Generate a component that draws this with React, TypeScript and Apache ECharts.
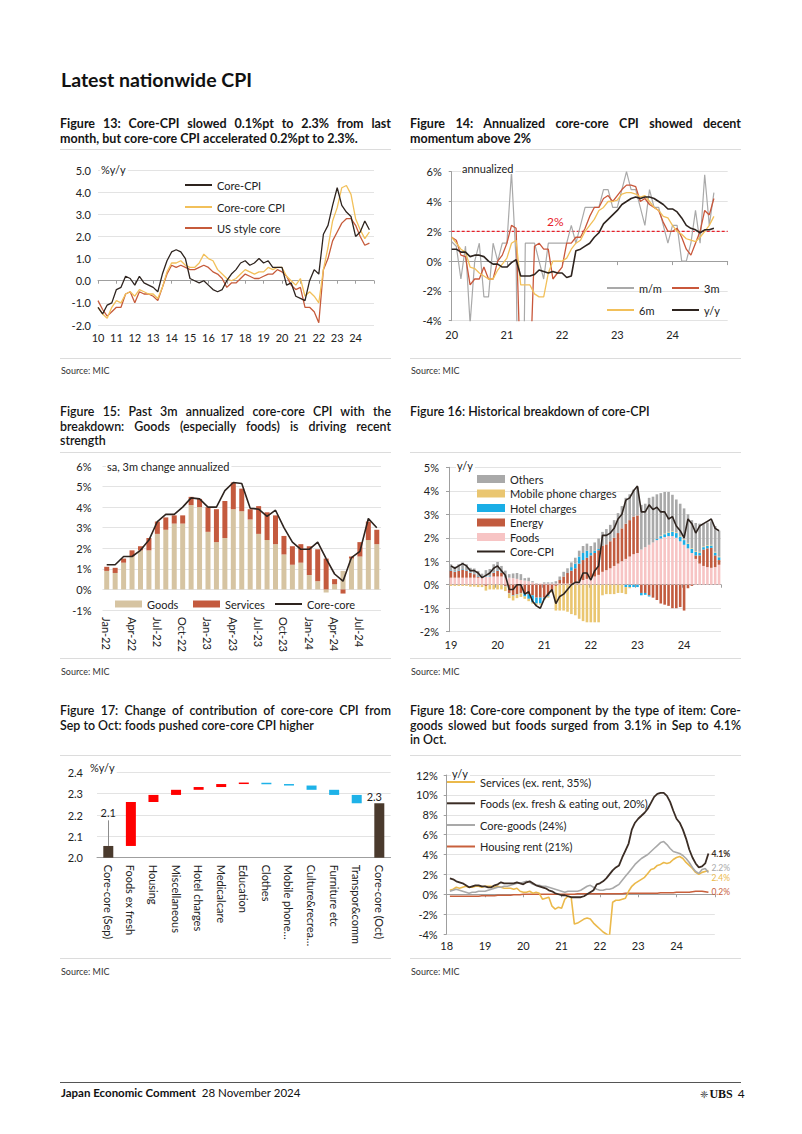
import React, { useEffect, useRef } from "react";
import * as echarts from "echarts";

const FONT = "Lato, 'Open Sans', 'Noto Sans', sans-serif";
const INK = "#222222";
const GRID_C = "#e3e3e3";
const AXIS_C = "#9f9f9f";
const DARK = "#2e241f";

// ---------------- Figure 13 (quarterly readings, 2010Q1 – 2024Q4) ----------------
const f13Start = 2010;
const f13Step = 0.25;
const f13CoreCPI = [
  -1.2, -1.5, -1.1, -1.0, -0.4, -0.3, 0.2, 0.1, -0.2, 0.2, -0.1, -0.2,
  -0.3, -0.5, 0.3, 0.9, 1.3, 1.4, 1.3, 1.0, 0.1, 0.0, -0.1, 0.0,
  -0.2, -0.4, -0.5, -0.4, 0.0, 0.3, 0.5, 0.8, 0.9, 0.7, 0.8, 1.0,
  0.8, 0.9, 0.6, 0.6, 0.6, -0.2, -0.1, -0.7, -0.8, -0.9, 0.0, 0.5,
  0.3, 2.1, 2.5, 3.4, 4.2, 3.4, 3.1, 2.9, 2.0, 2.2, 2.7, 2.3,
];
const f13CoreCore = [
  -1.2, -1.5, -1.7, -1.2, -0.9, -1.0, -0.6, -0.5, -0.7, -0.4, -0.5, -0.6,
  -0.6, -0.8, -0.3, 0.4, 0.8, 0.8, 0.9, 0.7, 0.6, 0.6, 0.8, 1.2,
  1.0, 0.9, 0.5, 0.3, 0.1, 0.0, 0.1, 0.3, 0.5, 0.4, 0.3, 0.4,
  0.4, 0.6, 0.5, 0.6, 0.6, 0.2, 0.0, -0.2, 0.1, -0.7, -0.5, -0.7,
  -1.0, 0.5, 1.5, 2.7, 3.3, 4.2, 4.3, 3.9, 2.8, 2.3, 1.9, 2.2,
];
const f13USCore = [
  -0.9, -1.3, -1.6, -1.4, -1.2, -1.2, -0.6, -0.5, -1.0, -0.5, -0.6, -0.6,
  -0.7, -0.9, -0.3, 0.3, 0.7, 0.6, 0.7, 0.6, 0.5, 0.5, 0.6, 0.7,
  0.6, 0.4, 0.3, 0.1, -0.3, -0.1, -0.1, 0.1, 0.3, 0.2, 0.1, 0.1,
  0.2, 0.3, 0.3, 0.5, 0.4, 0.2, -0.2, -0.4, -0.3, -1.2, -1.2, -1.4,
  -1.9, 0.5, 1.0, 1.8, 2.2, 2.6, 2.8, 2.8, 2.5, 2.0, 1.6, 1.7,
];

// ---------------- Figure 14 (monthly, Jan-2020 – Oct-2024, annualized %) ----------------
const f14Start = 2020;
const f14End = 2025;
const f14MoM = [
  1.3, 1.0, -1.2, 1.0, -4.2, 0.0, 1.2, -2.4, -2.4, 1.2, 0.0, 1.2,
  1.2, 6.0, 0.0, -25.0, 1.2, 1.2, 1.2, 0.0, -1.2, 1.2, 1.2, 1.2,
  1.2, 1.2, 2.4, 1.2, 2.4, 3.6, 3.6, 3.6, 3.6, 4.8, 4.8, 3.6,
  3.6, 4.8, 6.0, 4.8, 4.8, 3.6, 2.4, 4.8, 3.6, 3.6, 2.4, 1.2,
  2.4, 2.4, 0.0, 0.0, 1.2, 3.4, 1.2, 5.8, 2.4, 4.6,
];
const f14ThreeM = [
  1.6, 1.4, 0.4, 0.3, -1.6, -1.2, -1.2, -0.4, -1.2, -1.2, 0.0, 0.4,
  1.2, 2.4, 2.2, -8.0, -9.0, -8.0, 1.0, 1.2, 0.8, 0.8, -1.2, -0.8,
  -0.4, 1.2, 1.2, 1.6, 1.6, 2.2, 3.0, 3.6, 3.6, 4.2, 4.4, 4.0,
  4.4, 4.8, 5.1, 5.1, 5.0, 4.0, 4.2, 3.8, 3.6, 3.4, 2.6, 2.0,
  2.0, 2.2, 1.6, 0.8, 0.4, 1.2, 2.0, 3.4, 3.1, 4.2,
];
const f14SixM = [
  1.6, 1.2, 0.8, 0.6, -0.4, -0.5, -0.8, -1.0, -1.2, -1.2, -0.6, -0.2,
  0.2, 1.2, 1.4, -1.6, -1.6, -1.6, -2.2, -2.4, -2.4, -0.8, 0.0, 0.0,
  0.0, 0.2, 0.8, 1.2, 1.4, 2.0, 2.4, 2.8, 3.4, 3.6, 4.0, 4.0,
  4.1, 4.5, 4.6, 4.6, 4.5, 4.3, 4.4, 4.0, 3.6, 3.4, 3.0, 2.9,
  2.4, 2.0, 1.8, 1.5, 1.4, 1.3, 1.6, 2.0, 2.4, 3.0,
];
const f14YoY = [
  0.8, 0.8, 0.6, 0.6, 0.3, 0.4, 0.4, 0.3, 0.0, -0.2, -0.2, -0.4,
  -0.4, -0.1, 0.1, -1.0, -1.0, -1.0, -0.9, -0.6, -0.7, -0.8, -0.7, -0.8,
  -0.8, -1.1, -1.0, 0.7, 0.8, 1.0, 1.2, 1.6, 1.9, 2.5, 2.8, 3.1,
  3.4, 3.8, 4.0, 4.2, 4.3, 4.2, 4.3, 4.3, 4.2, 4.0, 3.8, 3.5,
  3.5, 3.3, 2.9, 2.4, 2.2, 2.1, 1.9, 2.1, 2.1, 2.2,
];
const f14Target = 2;

// ---------------- Figure 15 (monthly, Jan-22 – Sep-24) ----------------
const f15Cats = [
  "Jan-22", "Feb-22", "Mar-22", "Apr-22", "May-22", "Jun-22", "Jul-22", "Aug-22", "Sep-22", "Oct-22", "Nov-22", "Dec-22",
  "Jan-23", "Feb-23", "Mar-23", "Apr-23", "May-23", "Jun-23", "Jul-23", "Aug-23", "Sep-23", "Oct-23", "Nov-23", "Dec-23",
  "Jan-24", "Feb-24", "Mar-24", "Apr-24", "May-24", "Jun-24", "Jul-24", "Aug-24", "Sep-24",
];
const f15Goods = [
  0.9, 0.8, 1.3, 1.6, 1.9, 1.9, 2.7, 2.9, 3.2, 3.2, 4.1, 4.0,
  2.8, 2.3, 2.5, 3.9, 3.8, 3.4, 2.7, 2.4, 2.2, 1.7, 1.2, 1.3,
  0.7, 0.4, -0.15, 0.25, 0.9, 1.5, 1.6, 2.4, 2.2,
];
const f15Services = [
  0.2, 0.25, 0.2, 0.3, 0.2, 0.6, 0.6, 0.6, 0.4, 0.4, 0.4, 0.4,
  1.2, 1.6, 1.8, 1.3, 1.1, 0.5, 1.35, 1.35, 1.4, 0.9, 0.9, 0.9,
  1.4, 1.55, 1.5, 0.25, -0.2, 0.1, 0.7, 0.9, 0.7,
];
const f15CoreCore = [
  1.2, 1.2, 1.6, 1.6, 1.9, 2.4, 3.3, 3.65, 3.65, 4.0, 4.45, 4.4,
  4.0, 4.0, 4.8, 5.2, 5.15, 3.95, 3.9, 3.55, 3.85, 3.0, 2.3, 1.95,
  1.95, 2.3, 1.5, 0.75, 0.4, 1.55, 1.85, 3.45, 3.0,
];

// ---------------- Figure 16 (monthly, Jan-2019 – Oct-2024, contribution %pt) ----------------
const f16Start = 2019;
const f16Foods = [
  0.30, 0.30, 0.30, 0.30, 0.30, 0.30, 0.30, 0.30, 0.30, 0.35, 0.35, 0.35,
  0.35, 0.35, 0.30, 0.30, 0.28, 0.25, 0.20, 0.18, 0.15, 0.10, 0.05, 0.05,
  0.05, 0.05, 0.05, 0.05, 0.05, 0.05, 0.05, 0.05, 0.10, 0.15, 0.20, 0.25,
  0.30, 0.35, 0.42, 0.55, 0.62, 0.70, 0.80, 0.90, 1.00, 1.10, 1.20, 1.30,
  1.35, 1.50, 1.60, 1.70, 1.80, 1.90, 1.97, 2.03, 2.07, 2.07, 2.00, 1.85,
  1.70, 1.55, 1.35, 1.10, 0.90, 0.80, 0.75, 0.72, 0.75, 0.85,
];
const f16Energy = [
  0.30, 0.25, 0.30, 0.35, 0.30, 0.20, 0.15, 0.05, 0.00, -0.05, 0.00, 0.15,
  0.25, 0.15, -0.05, -0.35, -0.45, -0.40, -0.35, -0.35, -0.40, -0.45, -0.55, -0.55,
  -0.55, -0.45, -0.25, -0.05, 0.15, 0.30, 0.45, 0.55, 0.60, 0.75, 0.85, 0.90,
  0.95, 1.00, 1.05, 1.10, 1.10, 1.15, 1.20, 1.30, 1.40, 1.50, 1.55, 1.60,
  1.60, -0.35, -0.35, -0.45, -0.55, -0.65, -0.80, -0.85, -0.90, -1.00, -1.00, -0.95,
  -1.10, -0.15, -0.05, 0.15, 0.35, 0.70, 0.80, 0.85, 0.50, 0.20,
];
const f16Hotel = [
  0.02, 0.02, 0.02, 0.02, 0.02, 0.02, 0.02, 0.02, 0.02, 0.02, 0.02, 0.02,
  0.02, 0.00, -0.02, -0.02, -0.02, -0.02, -0.02, -0.15, -0.20, -0.30, -0.25, -0.25,
  -0.05, -0.05, -0.03, 0.00, 0.00, 0.00, 0.00, 0.15, 0.20, 0.30, 0.30, 0.30,
  0.10, 0.10, 0.05, 0.00, 0.00, 0.00, 0.00, 0.00, 0.00, -0.10, -0.10, -0.10,
  -0.10, -0.10, -0.08, -0.05, 0.00, 0.05, 0.10, 0.12, 0.15, 0.18, 0.20, 0.20,
  0.20, 0.20, 0.18, 0.15, 0.12, 0.10, 0.10, 0.10, 0.12, 0.12,
];
const f16Mobile = [
  -0.05, -0.05, -0.05, -0.05, -0.05, -0.08, -0.08, -0.10, -0.10, -0.20, -0.20, -0.20,
  -0.20, -0.20, -0.20, -0.20, -0.20, -0.15, -0.15, -0.10, -0.10, -0.05, -0.05, -0.05,
  -0.05, -0.05, -0.05, -1.05, -1.10, -1.10, -1.15, -1.25, -1.30, -1.45, -1.55, -1.60,
  -1.60, -1.60, -1.60, -0.45, -0.40, -0.40, -0.40, -0.35, -0.35, -0.30, -0.05, 0.00,
  0.00, 0.00, 0.00, 0.00, 0.00, 0.00, 0.03, 0.03, 0.03, 0.03, 0.03, 0.03,
  0.03, 0.03, 0.03, 0.03, 0.03, 0.03, 0.03, 0.03, 0.03, 0.03,
];
const f16Others = [
  0.25, 0.20, 0.25, 0.28, 0.25, 0.20, 0.22, 0.22, 0.15, 0.25, 0.30, 0.35,
  0.35, 0.30, 0.30, 0.15, 0.20, 0.25, 0.25, 0.10, 0.15, 0.05, 0.02, 0.00,
  0.05, 0.05, 0.05, 0.10, 0.15, 0.20, 0.20, 0.20, 0.25, 0.25, 0.30, 0.30,
  0.30, 0.35, 0.45, 0.60, 0.65, 0.70, 0.75, 0.85, 0.95, 1.10, 1.10, 1.15,
  1.20, 1.90, 1.85, 2.00, 1.95, 1.90, 1.80, 1.77, 1.70, 1.55, 1.40, 1.37,
  1.32, 1.22, 1.19, 1.20, 1.20, 0.97, 0.97, 1.00, 1.10, 1.10,
];
const f16CoreCPI = [
  0.8, 0.7, 0.8, 0.9, 0.8, 0.6, 0.6, 0.5, 0.3, 0.4, 0.5, 0.7,
  0.8, 0.6, 0.4, -0.2, -0.2, 0.0, 0.0, -0.4, -0.3, -0.7, -0.9, -1.0,
  -0.6, -0.4, -0.2, -0.8, -0.5, -0.4, -0.2, 0.0, 0.1, 0.1, 0.5, 0.5,
  0.2, 0.6, 0.8, 2.1, 2.1, 2.2, 2.4, 2.8, 3.0, 3.6, 3.7, 4.0,
  4.2, 3.1, 3.1, 3.4, 3.2, 3.3, 3.1, 3.1, 2.8, 2.9, 2.5, 2.3,
  2.0, 2.8, 2.6, 2.2, 2.5, 2.6, 2.7, 2.8, 2.4, 2.3,
];
const f16Months = f16Foods.map((_, i) => `${f16Start + Math.floor(i / 12)}-${String((i % 12) + 1).padStart(2, "0")}`);

// ---------------- Figure 17 (waterfall, %pt contributions Sep → Oct) ----------------
const f17Cats = [
  "Core-core (Sep)", "Foods ex fresh", "Housing", "Miscellaneous", "Hotel charges", "Medicalcare",
  "Education", "Clothes", "Mobile phone…", "Culture&recrea…", "Furniture etc", "Transpor&comm", "Core-core (Oct)",
];
const f17SepLevel = 2.055;
const f17OctLevel = 2.255;
const f17Contrib = [0.206, 0.033, 0.024, 0.013, 0.014, 0.004, -0.005, -0.006, -0.02, -0.024, -0.039];

// ---------------- Figure 18 (monthly, Jan-2018 – Oct-2024, y/y %) ----------------
const f18Start = 2018;
const f18Services = [
  0.4, 0.5, 0.7, 0.6, 0.7, 0.8, 0.7, 0.7, 0.8, 0.8, 0.7, 0.8,
  0.8, 0.8, 0.7, 0.8, 0.7, 0.6, 0.6, 0.6, 0.5, 0.6, 0.3, 0.2,
  0.2, 0.3, 0.1, 0.2, 0.1, -0.5, -0.4, -0.3, -1.2, -1.5, -1.3, -1.4,
  -0.5, -0.2, -0.3, -3.0, -2.9, -2.7, -2.5, -2.4, -2.5, -2.9, -3.2, -3.5,
  -3.8, -4.0, -4.2, -0.8, -0.6, -0.6, -0.5, -0.4, 0.3, 0.8, 1.1, 1.3,
  1.5, 1.7, 2.1, 2.5, 2.6, 2.9, 3.0, 3.2, 3.1, 3.2, 3.5, 3.7,
  3.8, 3.6, 3.2, 2.9, 2.6, 2.2, 2.0, 2.2, 2.3, 2.4,
];
const f18Foods = [
  1.6, 1.5, 1.3, 1.2, 1.1, 0.9, 0.7, 0.8, 0.9, 0.9, 0.8, 0.8,
  0.7, 0.7, 0.9, 1.0, 1.2, 1.1, 1.1, 1.1, 1.1, 1.2, 1.1, 1.0,
  1.2, 1.3, 1.1, 0.9, 0.8, 0.7, 0.6, 0.4, 0.3, 0.1, 0.0, -0.1,
  -0.1, -0.2, -0.3, -0.3, -0.3, -0.3, -0.2, 0.0, 0.2, 0.4, 1.0, 1.1,
  1.3, 1.6, 2.0, 2.4, 2.7, 2.9, 3.7, 4.4, 5.1, 6.5, 7.2, 7.6,
  7.9, 8.2, 8.6, 9.2, 9.8, 10.1, 10.2, 10.2, 9.9, 9.3, 8.4, 7.6,
  7.2, 6.5, 5.6, 4.5, 3.7, 3.1, 2.7, 2.8, 3.1, 4.1,
];
const f18CoreGoods = [
  0.3, 0.4, 0.5, 0.4, 0.3, 0.2, 0.1, 0.2, 0.2, 0.3, 0.3, 0.3,
  0.4, 0.5, 0.6, 0.7, 0.7, 0.8, 0.8, 0.9, 1.0, 1.1, 1.1, 1.2,
  1.3, 1.2, 1.0, 0.9, 0.9, 0.8, 0.8, 0.7, 0.6, 0.5, 0.4, 0.3,
  0.2, 0.3, 0.3, 0.3, 0.3, 0.4, 0.6, 0.8, 0.9, 0.7, 0.5, 0.4,
  0.4, 0.5, 0.5, 0.6, 0.8, 1.0, 1.4, 1.8, 2.2, 2.6, 3.0, 3.3,
  3.6, 3.8, 4.0, 4.3, 4.6, 4.9, 5.2, 5.3, 5.0, 4.6, 4.3, 4.2,
  4.1, 3.9, 3.6, 3.2, 2.7, 2.3, 2.1, 2.5, 2.6, 2.2,
];
const f18Rent = [
  -0.2, -0.2, -0.2, -0.2, -0.2, -0.2, -0.2, -0.2, -0.2, -0.2, -0.15, -0.15,
  -0.15, -0.15, -0.15, -0.1, -0.1, -0.1, -0.1, -0.1, -0.05, -0.05, -0.05, 0.0,
  0.0, 0.0, 0.0, 0.0, 0.0, 0.0, 0.0, 0.0, 0.0, 0.0, 0.0, 0.0,
  0.0, 0.0, 0.0, 0.0, 0.05, 0.05, 0.05, 0.05, 0.05, 0.05, 0.05, 0.05,
  0.05, 0.05, 0.05, 0.05, 0.05, 0.05, 0.05, 0.1, 0.1, 0.1, 0.1, 0.1,
  0.1, 0.1, 0.1, 0.1, 0.1, 0.1, 0.15, 0.15, 0.15, 0.15, 0.15, 0.2,
  0.2, 0.2, 0.2, 0.2, 0.25, 0.3, 0.3, 0.3, 0.25, 0.2,
];

// ---------------- helpers ----------------
const LBL = { color: INK, fontSize: 11, fontFamily: FONT };
const withX = (vals: number[], start: number, step: number, shift = 0) =>
  vals.map((v, i) => [start + (i + shift) * step, v]);

const line = (name: string, data: any[], color: string, width = 1.3, extra: any = {}) => ({
  type: "line", name, data, symbol: "none", showSymbol: false, clip: true,
  lineStyle: { color, width }, itemStyle: { color }, emphasis: { disabled: true }, ...extra,
});

// legend entry placed at an exact spot; line series use a thin bar as icon
const legendAt = (name: string, left: number, cy: number, extra: any = {}) => ({
  data: [name], left, top: cy - 6, padding: 0, itemGap: 0, itemWidth: 27, itemHeight: 2, icon: "rect",
  selectedMode: false, textStyle: { color: INK, fontSize: 11, fontFamily: FONT, lineHeight: 12 }, ...extra,
});

const labelAxis = (min: number, max: number, margin: number) => ({
  type: "value", min, max, interval: 1,
  axisLine: { show: false, onZero: false }, axisTick: { show: false }, splitLine: { show: false },
  axisLabel: {
    ...LBL, margin, showMaxLabel: true,
    formatter: (v: number) => (Math.abs(v - Math.round(v)) < 1e-6 && v < max - 0.01 ? String(Math.round(v) - 2000) : ""),
  },
});

const zeroAxis = (min: number, max: number, tick: number) => ({
  type: "value", min, max, interval: 1, position: "bottom",
  axisLine: { show: true, onZero: true, lineStyle: { color: AXIS_C, width: 1 } },
  axisTick: { show: true, length: tick, lineStyle: { color: AXIS_C } },
  axisLabel: { show: false }, splitLine: { show: false },
});

const text = (t: string, left: number, top: number, fill = INK, size = 11, bg = "#ffffff") => ({
  type: "text", left, top, silent: true, z: 10,
  style: { text: t, fill, font: `${size}px ${FONT}`, backgroundColor: bg, padding: [0, 2, 0, 1] },
});

// ---------------- options ----------------
const option13: any = {
  animation: false,
  textStyle: { fontFamily: FONT },
  grid: { left: 38, top: 18, width: 276, height: 155 },
  xAxis: [labelAxis(2010, 2025, 7), zeroAxis(2010, 2025, 3)],
  yAxis: {
    type: "value", min: -2, max: 5, interval: 1,
    axisLine: { show: false }, axisTick: { show: false },
    splitLine: { lineStyle: { color: GRID_C } },
    axisLabel: { ...LBL, margin: 7, formatter: (v: number) => v.toFixed(1) },
  },
  legend: [
    legendAt("Core-CPI", 125, 33),
    legendAt("Core-core CPI", 125, 55),
    legendAt("US style core", 125, 76),
  ],
  graphic: [text("%y/y", 40, 12)],
  series: [
    line("US style core", withX(f13USCore, f13Start, f13Step), "#c65b3b", 1.3),
    line("Core-core CPI", withX(f13CoreCore, f13Start, f13Step), "#f2c05a", 1.3),
    line("Core-CPI", withX(f13CoreCPI, f13Start, f13Step), DARK, 1.3),
  ],
};

const option14: any = {
  animation: false,
  textStyle: { fontFamily: FONT },
  grid: { left: 46.7, top: 19.7, width: 276, height: 149 },
  xAxis: [labelAxis(f14Start, f14End, 8), zeroAxis(f14Start, f14End, 4)],
  yAxis: {
    type: "value", min: -4, max: 6, interval: 2,
    axisLine: { show: true, lineStyle: { color: AXIS_C } },
    axisTick: { show: true, length: 3, lineStyle: { color: AXIS_C } },
    splitLine: { lineStyle: { color: GRID_C } },
    axisLabel: { ...LBL, margin: 10, formatter: (v: number) => `${v}%` },
  },
  legend: [
    legendAt("m/m", 202, 136),
    legendAt("3m", 267, 136),
    legendAt("6m", 202, 158),
    legendAt("y/y", 267, 158),
  ],
  graphic: [text("annualized", 56, 11), text("2%", 141, 63, "#e8202a", 12, "rgba(0,0,0,0)")],
  series: [
    {
      type: "line", name: "2% target", silent: true, symbol: "none", z: 1,
      data: [[f14Start, f14Target], [f14End, f14Target]],
      lineStyle: { color: "#e8202a", width: 1.2, type: [3, 2] }, itemStyle: { color: "#e8202a" },
      emphasis: { disabled: true },
    },
    line("m/m", withX(f14MoM, f14Start, 1 / 12), "#a9a9a9", 1.2),
    line("3m", withX(f14ThreeM, f14Start, 1 / 12), "#c9573b", 1.3),
    line("6m", withX(f14SixM, f14Start, 1 / 12), "#f2c05a", 1.3),
    line("y/y", withX(f14YoY, f14Start, 1 / 12), DARK, 1.6),
  ],
};

const option15: any = {
  animation: false,
  textStyle: { fontFamily: FONT },
  grid: { left: 42.5, top: 11, width: 278.5, height: 144 },
  xAxis: {
    type: "category", data: f15Cats,
    axisLine: { show: false, onZero: false }, axisTick: { show: false },
    axisLabel: { ...LBL, rotate: -90, interval: 2, margin: 7 },
  },
  yAxis: {
    type: "value", min: -1, max: 6, interval: 1,
    axisLine: { show: false }, axisTick: { show: false },
    splitLine: { lineStyle: { color: GRID_C } },
    axisLabel: { ...LBL, margin: 11, formatter: (v: number) => `${v}%` },
  },
  legend: [
    legendAt("Goods", 55, 149, { itemHeight: 7 }),
    legendAt("Services", 133, 149, { itemHeight: 7 }),
    legendAt("Core-core", 215, 149),
  ],
  graphic: [text("sa, 3m change annualized", 46, 6)],
  series: [
    { type: "bar", name: "Goods", stack: "cc", data: f15Goods, barWidth: 5, itemStyle: { color: "#d6c4a2" } },
    { type: "bar", name: "Services", stack: "cc", data: f15Services, barWidth: 5, itemStyle: { color: "#c45a3e" } },
    line("Core-core", f15CoreCore, DARK, 1.6, { z: 5 }),
  ],
};

const bar16 = (name: string, vals: number[], color: string) => ({
  type: "bar", name, stack: "b", data: vals, barWidth: 2.6,
  itemStyle: { color }, emphasis: { disabled: true },
});
const isJan = (i: number) => i % 12 === 0;

const option16: any = {
  animation: false,
  textStyle: { fontFamily: FONT },
  grid: { left: 44, top: 12.3, width: 272, height: 164.4 },
  xAxis: [
    {
      type: "category", data: f16Months,
      axisLine: { show: false, onZero: false }, axisTick: { show: false },
      axisLabel: { ...LBL, margin: 7, interval: (i: number) => isJan(i), formatter: (v: string) => v.slice(2, 4) },
    },
    {
      type: "category", data: f16Months, position: "bottom",
      axisLine: { show: true, onZero: true, lineStyle: { color: AXIS_C } },
      axisTick: { show: true, length: 3, interval: (i: number) => isJan(i), lineStyle: { color: AXIS_C } },
      axisLabel: { show: false }, splitLine: { show: false },
    },
  ],
  yAxis: {
    type: "value", min: -2, max: 5, interval: 1,
    axisLine: { show: true, lineStyle: { color: AXIS_C } },
    axisTick: { show: true, length: 3, lineStyle: { color: AXIS_C } },
    splitLine: { lineStyle: { color: GRID_C } },
    axisLabel: { ...LBL, margin: 10, formatter: (v: number) => `${v}%` },
  },
  legend: [
    legendAt("Others", 72, 24, { itemWidth: 28, itemHeight: 8 }),
    legendAt("Mobile phone charges", 72, 38.5, { itemWidth: 28, itemHeight: 8 }),
    legendAt("Hotel charges", 72, 53, { itemWidth: 28, itemHeight: 8 }),
    legendAt("Energy", 72, 67.5, { itemWidth: 28, itemHeight: 8 }),
    legendAt("Foods", 72, 82, { itemWidth: 28, itemHeight: 8 }),
    legendAt("Core-CPI", 72, 96.5, { itemWidth: 28 }),
  ],
  graphic: [text("y/y", 51, 5)],
  series: [
    bar16("Foods", f16Foods, "#f7c4c4"),
    bar16("Energy", f16Energy, "#c25b3f"),
    bar16("Hotel charges", f16Hotel, "#1aaee6"),
    bar16("Mobile phone charges", f16Mobile, "#eac671"),
    bar16("Others", f16Others, "#a9a9a9"),
    line("Core-CPI", f16CoreCPI, DARK, 1.6, { z: 5 }),
  ],
};

// waterfall table built from the contributions
const f17Base: number[] = [0];
const f17Height: any[] = [{ value: f17SepLevel, itemStyle: { color: "#4a3a2d" } }];
{
  let level = f17SepLevel;
  f17Contrib.forEach((c) => {
    const next = level + c;
    f17Base.push(Math.min(level, next));
    f17Height.push({ value: Math.abs(c), itemStyle: { color: c >= 0 ? "#ff0000" : "#1eb2e8" } });
    level = next;
  });
  f17Base.push(0);
  f17Height.push({
    value: f17OctLevel, itemStyle: { color: "#4a3a2d" },
    label: { show: true, position: "top", distance: 1, offset: [-5, 0], formatter: () => f17OctLevel.toFixed(1), ...LBL },
  });
}

const option17: any = {
  animation: false,
  textStyle: { fontFamily: FONT },
  grid: { left: 37, top: 14.3, width: 293.6, height: 85.4 },
  xAxis: {
    type: "category", data: f17Cats,
    axisLine: { show: true, lineStyle: { color: AXIS_C } }, axisTick: { show: false },
    axisLabel: { ...LBL, rotate: -90, interval: 0, margin: 7 },
  },
  yAxis: {
    type: "value", min: 2.0, max: 2.4, interval: 0.1,
    axisLine: { show: false }, axisTick: { show: false },
    splitLine: { lineStyle: { color: GRID_C } },
    axisLabel: { ...LBL, margin: 14, formatter: (v: number) => v.toFixed(1) },
  },
  graphic: [text("%y/y", 29, 4)],
  series: [
    { type: "bar", stack: "w", data: f17Base, barWidth: 10, clip: true, silent: true, itemStyle: { color: "rgba(0,0,0,0)" } },
    {
      type: "bar", stack: "w", data: f17Height, barWidth: 10, clip: true, barMinHeight: 1.5,
      markLine: {
        silent: true, symbol: "none",
        lineStyle: { color: "#8c8c8c", width: 1, type: "solid" },
        label: { show: true, position: "end", distance: 2, formatter: () => f17SepLevel.toFixed(1), ...LBL },
        data: [[{ coord: [f17Cats[0], f17SepLevel] }, { coord: [f17Cats[0], 2.175] }]],
      },
    },
  ],
};

const endLab = (color: string, offset: number[], bold = false) => ({
  show: true, distance: 3, offset, color, fontSize: 8.5, fontFamily: FONT, fontWeight: bold ? "bold" : "normal",
  formatter: (p: any) => `${p.value[1].toFixed(1)}%`,
});

const option18: any = {
  animation: false,
  textStyle: { fontFamily: FONT },
  grid: { left: 41.7, top: 17, width: 268.1, height: 159 },
  xAxis: [labelAxis(2018, 2025, 6), zeroAxis(2018, 2025, 3)],
  yAxis: {
    type: "value", min: -4, max: 12, interval: 2,
    axisLine: { show: true, lineStyle: { color: AXIS_C } },
    axisTick: { show: true, length: 3, lineStyle: { color: AXIS_C } },
    splitLine: { lineStyle: { color: GRID_C } },
    axisLabel: { ...LBL, margin: 9, formatter: (v: number) => `${v}%` },
  },
  legend: [
    legendAt("Services (ex. rent, 35%)", 42, 24, { itemWidth: 28 }),
    legendAt("Foods (ex. fresh & eating out, 20%)", 42, 45.3, { itemWidth: 28 }),
    legendAt("Core-goods (24%)", 42, 67, { itemWidth: 28 }),
    legendAt("Housing rent (21%)", 42, 88.5, { itemWidth: 28 }),
  ],
  graphic: [text("y/y", 46, 10)],
  series: [
    line("Housing rent (21%)", withX(f18Rent, f18Start, 1 / 12, 1), "#c8603c", 1.6, { endLabel: endLab("#c8603c", [0, 0]) }),
    line("Services (ex. rent, 35%)", withX(f18Services, f18Start, 1 / 12, 1), "#ebb94b", 1.6, { endLabel: endLab("#ebb94b", [0, 8]) }),
    line("Core-goods (24%)", withX(f18CoreGoods, f18Start, 1 / 12, 1), "#a9a9a9", 1.6, { endLabel: endLab("#a9a9a9", [0, -4]) }),
    line("Foods (ex. fresh & eating out, 20%)", withX(f18Foods, f18Start, 1 / 12, 1), "#3b2d25", 1.8, { endLabel: endLab("#3b2d25", [0, 0], true) }),
  ],
};

// ---------------- components ----------------
function EChart({ option, left, top, width, height }: { option: any; left: number; top: number; width: number; height: number }) {
  const ref = useRef<HTMLDivElement>(null);
  useEffect(() => {
    if (!ref.current) return;
    const chart = echarts.init(ref.current, undefined, { renderer: "svg" });
    chart.setOption(option);
    return () => chart.dispose();
  }, [option]);
  return <div ref={ref} style={{ position: "absolute", left, top, width, height }} />;
}

function Title({ lines, left, top, width, size, weight }: { lines: string[]; left: number; top: number; width: number; size: number; weight: number }) {
  return (
    <div style={{ position: "absolute", left, top, width, fontFamily: FONT, fontSize: size, fontWeight: weight, lineHeight: "14.5px", color: "#141414" }}>
      {lines.map((l, i) => {
        const just = i < lines.length - 1;
        return (
          <div key={i} style={{ textAlign: just ? "justify" : "left", textAlignLast: just ? "justify" : "left" } as any}>
            {l}
          </div>
        );
      })}
    </div>
  );
}

const Rule = ({ left, top, width, color = "#dcdcdc" }: { left: number; top: number; width: number; color?: string }) => (
  <div style={{ position: "absolute", left, top, width, height: 0, borderTop: `1px solid ${color}` }} />
);

const Source = ({ left, top }: { left: number; top: number }) => (
  <div style={{ position: "absolute", left, top, fontFamily: FONT, fontSize: 9, color: "#333" }}>Source: MIC</div>
);

export default function App() {
  const L = 60;
  const R = 410;
  const W = 331;
  return (
    <div style={{ position: "absolute", left: 0, top: 0, width: 802, height: 1134, background: "#fff", overflow: "hidden", fontFamily: FONT }}>
      <div style={{ position: "absolute", left: 61, top: 68, fontSize: 19.5, fontWeight: 700, color: "#111", lineHeight: "24px" }}>
        Latest nationwide CPI
      </div>

      <Title lines={["Figure 13: Core-CPI slowed 0.1%pt to 2.3% from last", "month, but core-core CPI accelerated 0.2%pt to 2.3%."]} left={L} top={117} width={W} size={12.5} weight={700} />
      <Title lines={["Figure 14: Annualized core-core CPI showed decent", "momentum above 2%"]} left={R} top={117} width={W} size={12.5} weight={700} />
      <Rule left={L} top={149} width={W} />
      <Rule left={R} top={149} width={W} />
      <EChart option={option13} left={60} top={152} width={332} height={204} />
      <EChart option={option14} left={405} top={152} width={340} height={204} />
      <Rule left={L} top={358} width={W} />
      <Rule left={R} top={358} width={W} />
      <Source left={61} top={365} />
      <Source left={411} top={365} />

      <Title lines={["Figure 15: Past 3m annualized core-core CPI with the", "breakdown: Goods (especially foods) is driving recent", "strength"]} left={L} top={405} width={W} size={12.4} weight={600} />
      <Title lines={["Figure 16: Historical breakdown of core-CPI"]} left={R} top={405} width={W} size={12.4} weight={600} />
      <Rule left={L} top={452} width={W} />
      <Rule left={R} top={452} width={W} />
      <EChart option={option15} left={60} top={455} width={332} height={200} />
      <EChart option={option16} left={405} top={455} width={340} height={200} />
      <Rule left={L} top={658} width={W} />
      <Rule left={R} top={658} width={W} />
      <Source left={61} top={666} />
      <Source left={411} top={666} />

      <Title lines={["Figure 17: Change of contribution of core-core CPI from", "Sep to Oct: foods pushed core-core CPI higher"]} left={L} top={704} width={W} size={12.4} weight={600} />
      <Title lines={["Figure 18: Core-core component by the type of item: Core-", "goods slowed but foods surged from 3.1% in Sep to 4.1%", "in Oct."]} left={R} top={704} width={W} size={12.4} weight={600} />
      <Rule left={L} top={755} width={W} />
      <Rule left={R} top={755} width={W} />
      <EChart option={option17} left={60} top={758} width={332} height={198} />
      <EChart option={option18} left={405} top={758} width={340} height={198} />
      <Rule left={L} top={958} width={W} />
      <Rule left={R} top={958} width={W} />
      <Source left={61} top={966} />
      <Source left={411} top={966} />

      <Rule left={60} top={1082} width={681} color="#555" />
      <div style={{ position: "absolute", left: 61, top: 1086, fontSize: 11.5, color: "#111", whiteSpace: "nowrap" }}>
        <span style={{ fontWeight: 700 }}>Japan Economic Comment</span>
        <span style={{ marginLeft: 6 }}>28 November 2024</span>
      </div>
      <div style={{ position: "absolute", left: 700, top: 1086, width: 41, textAlign: "right", fontSize: 12, color: "#111", whiteSpace: "nowrap" }}>
        <span style={{ fontFamily: "'DejaVu Sans', sans-serif", fontSize: 10, color: "#444" }}>❈</span>
        <span style={{ fontFamily: "'Liberation Serif', serif", fontWeight: 700, marginLeft: 1 }}>UBS</span>
        <span style={{ marginLeft: 5 }}>4</span>
      </div>
    </div>
  );
}
